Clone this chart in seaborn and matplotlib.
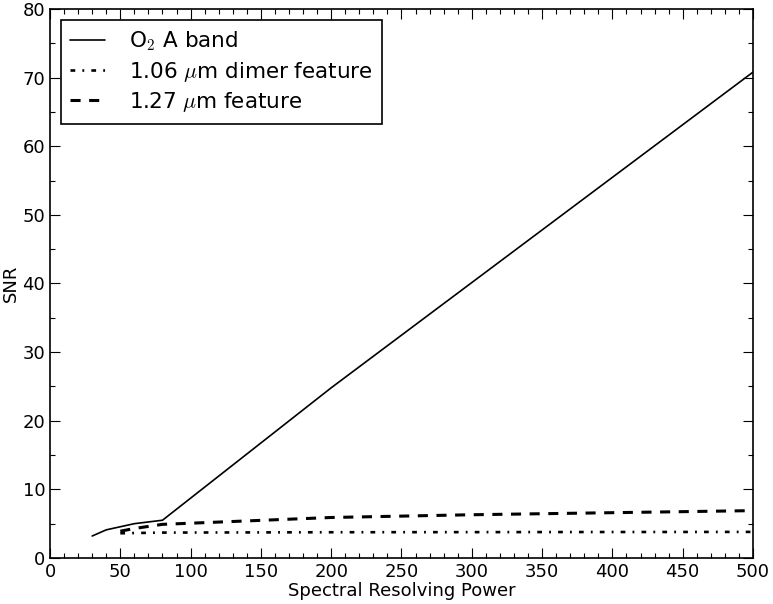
import matplotlib
matplotlib.use("Agg")
import matplotlib.pyplot as plt
import seaborn as sns
from matplotlib.ticker import MultipleLocator

# --- data ---
o2_power = [30, 40, 60, 80, 200, 500]
o2_snr = [3.2, 4.1, 5.0, 5.5, 24.8, 70.8]

dimer_power = [50, 80, 200, 500]
dimer_snr = [3.6, 3.7, 3.75, 3.8]

f127_power = [50, 60, 80, 200, 300, 500]
f127_snr = [3.9, 4.3, 4.9, 5.9, 6.3, 6.9]

sns.set_style("white")
plt.rcParams["font.family"] = ["DejaVu Sans"]
plt.rcParams["mathtext.fontset"] = "cm"
for key in ["text.color", "axes.labelcolor", "xtick.color", "ytick.color"]:
    plt.rcParams[key] = "black"

fig = plt.figure(figsize=(7.73, 6.04), dpi=100)
ax = fig.add_axes([0.0647, 0.0762, 0.9094, 0.9089])

sns.lineplot(x=o2_power, y=o2_snr, ax=ax, color="k", linewidth=1.2,
             label=r"O$_2$ A band")
sns.lineplot(x=dimer_power, y=dimer_snr, ax=ax, color="k", linewidth=1.9,
             linestyle=(0, (1.8, 2.7, 0.7, 2.7)), label=r"1.06 $\mu$m dimer feature")
sns.lineplot(x=f127_power, y=f127_snr, ax=ax, color="k", linewidth=2.2,
             linestyle=(0, (3.3, 2.8)), label=r"1.27 $\mu$m feature")

ax.set_xlim(0, 500)
ax.set_ylim(0, 80)
ax.xaxis.set_major_locator(MultipleLocator(50))
ax.xaxis.set_minor_locator(MultipleLocator(10))
ax.yaxis.set_major_locator(MultipleLocator(10))
ax.yaxis.set_minor_locator(MultipleLocator(5))
ax.tick_params(which="both", direction="in", top=True, right=True,
               bottom=True, left=True, labelsize=13, color="k")
ax.tick_params(which="major", length=7, width=0.8)
ax.tick_params(which="minor", length=3.5, width=0.8)
for s in ax.spines.values():
    s.set_color("k")
    s.set_linewidth(1.2)

ax.set_xlabel("Spectral Resolving Power", fontsize=13, labelpad=1)
ax.set_ylabel("SNR", fontsize=13, labelpad=2)

leg = ax.legend(loc="upper left", fontsize=15.5, frameon=True, fancybox=False,
                handlelength=1.6, handletextpad=1.1, borderpad=0.45,
                labelspacing=0.3, borderaxespad=0.5)
leg.get_frame().set_edgecolor("k")
leg.get_frame().set_linewidth(1.2)
leg.get_frame().set_alpha(1)

fig.savefig("out.png", dpi=100)
